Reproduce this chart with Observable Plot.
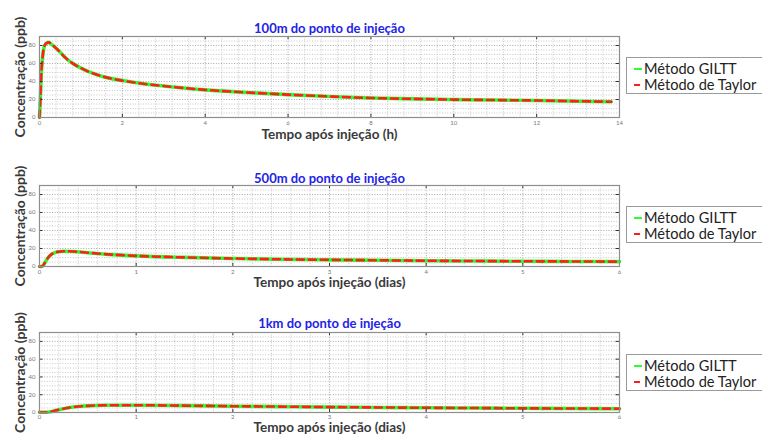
<!DOCTYPE html>
<html>
<head>
<meta charset="utf-8">
<script src="https://cdn.jsdelivr.net/npm/d3@7"></script>
<script src="https://cdn.jsdelivr.net/npm/@observablehq/plot@0.6"></script>
<style>
  html, body { margin: 0; padding: 0; background: #fff; }
  #root { position: relative; width: 762px; height: 436px; overflow: hidden; background: #fff; font-family: Lato, "Open Sans", sans-serif; }
  .panel { position: absolute; left: 0; }
  .legend { position: absolute; left: 626px; width: 150px; height: 37px; border: 1px solid #9a9a9a; background: #fff; box-sizing: border-box; }
  .row { position: absolute; left: 7px; height: 17px; line-height: 17px; font-size: 14.6px; color: #222; white-space: nowrap; }
  .sw { display: inline-block; width: 8px; height: 0; vertical-align: middle; margin-right: 2px; position: relative; top: -1px; }
</style>
</head>
<body>
<div id="root"></div>
<script>
// ---------------- data ----------------
const seriesNames = ["Método GILTT", "Método de Taylor"];
const panelTitles = ["100m do ponto de injeção", "500m do ponto de injeção", "1km do ponto de injeção"];
const xLabels = ["Tempo após injeção (h)", "Tempo após injeção (dias)", "Tempo após injeção (dias)"];
const yLabel = "Concentração (ppb)";

const xTicksHours = [0, 2, 4, 6, 8, 10, 12, 14];
const xTicksDays = [0, 1, 2, 3, 4, 5, 6];
const yTicks = [0, 20, 40, 60, 80];

// 100 m (hours)
const time100 = [0, 0.02, 0.04, 0.07, 0.1, 0.15, 0.22, 0.3, 0.4, 0.5, 0.6, 0.7, 0.8, 0.9, 1.0, 1.2, 1.5, 2.0, 2.5, 3.0, 4.0, 5.0, 6.0, 7.0, 8.0, 9.0, 10, 11, 12, 13, 13.8];
const giltt100 = [0, 20, 45, 65, 76, 82, 83.5, 81, 77, 72.5, 67.5, 63.5, 60.2, 57.4, 54.9, 50.6, 45.9, 41, 37.5, 35, 30.7, 27.8, 25.4, 23.4, 21.7, 20.7, 19.9, 19.4, 18.9, 18.1, 17.5];
const taylor100 = [0, 20, 45, 65, 76, 82, 83.5, 81, 77, 72.5, 67.5, 63.5, 60.2, 57.4, 54.9, 50.6, 45.9, 41, 37.5, 35, 30.7, 27.8, 25.4, 23.4, 21.7, 20.7, 19.9, 19.4, 18.9, 18.1, 17.5];

// 500 m (days)
const time500 = [0, 0.02, 0.04, 0.06, 0.09, 0.13, 0.18, 0.25, 0.35, 0.5, 0.75, 1, 1.5, 2, 2.5, 3, 3.5, 4, 4.5, 5, 5.5, 6];
const giltt500 = [0, 0, 1.5, 5, 10, 14, 16.2, 17, 16.7, 15.3, 13.2, 11.8, 10.1, 8.9, 8.0, 7.4, 6.9, 6.4, 6.1, 5.8, 5.6, 5.4];
const taylor500 = [0, 0, 1.5, 5, 10, 14, 16.2, 17, 16.7, 15.3, 13.2, 11.8, 10.1, 8.9, 8.0, 7.4, 6.9, 6.4, 6.1, 5.8, 5.6, 5.4];

// 1 km (days)
const time1k = [0, 0.05, 0.1, 0.15, 0.2, 0.3, 0.4, 0.5, 0.7, 1, 1.5, 2, 2.5, 3, 3.5, 4, 4.5, 5, 5.5, 6];
const giltt1k = [0.3, 0.2, 0.6, 1.8, 3.2, 5.3, 6.7, 7.5, 8.1, 8.2, 7.7, 7.1, 6.6, 6.1, 5.7, 5.3, 5.0, 4.7, 4.5, 4.3];
const taylor1k = [0.3, 0.2, 0.6, 1.8, 3.2, 5.3, 6.7, 7.5, 8.1, 8.2, 7.7, 7.1, 6.6, 6.1, 5.7, 5.3, 5.0, 4.7, 4.5, 4.3];

// ---------------- drawing ----------------
const GREEN = "#2cff2c", RED = "#ff1e1e";
const root = document.getElementById("root");

function panel(cfg) {
  const { top, height, mt, mb, title, xlabel, xTicks, xMinor, time, a, b, titleDy, labelDy, tickPad } = cfg;
  const xmax = xTicks[xTicks.length - 1];
  const dA = time.map((t, i) => ({ t, c: a[i] }));
  const dB = time.map((t, i) => ({ t, c: b[i] }));
  const minorX = d3.range(0, xmax + 1e-9, xMinor).filter(v => !xTicks.some(t => Math.abs(t - v) < 1e-9));
  const minorY = d3.range(0, 90, 5).filter(v => !yTicks.includes(v));
  const tx = xmax * 0.006; // inward tick length in x units (~3.5px)
  const ty = 3.5;          // inward tick length in y units (~3px)
  const p = Plot.plot({
    width: 762, height,
    marginLeft: 39, marginRight: 143, marginTop: mt, marginBottom: mb,
    x: { domain: [0, xmax] },
    y: { domain: [0, 90] },
    style: { fontFamily: "Lato, 'Open Sans', sans-serif", background: "transparent", overflow: "visible" },
    marks: [
      Plot.frame({ fill: "#fff" }),
      Plot.gridX(minorX, { stroke: "#c8c8c8", strokeOpacity: 1, strokeDasharray: "1,1.6" }),
      Plot.gridY(minorY, { stroke: "#c8c8c8", strokeOpacity: 1, strokeDasharray: "1,1.6" }),
      Plot.gridX(xTicks, { stroke: "#a8a8a8", strokeOpacity: 1, strokeDasharray: "1,1.6" }),
      Plot.gridY(yTicks, { stroke: "#a8a8a8", strokeOpacity: 1, strokeDasharray: "1,1.6" }),
      Plot.line(dA, { x: "t", y: "c", stroke: GREEN, strokeWidth: 3.6, curve: "monotone-x" }),
      Plot.line(dB, { x: "t", y: "c", stroke: RED, strokeWidth: 2.6, strokeDasharray: "7,5", curve: "monotone-x" }),
      // inward ticks (bottom, top, left, right)
      Plot.ruleX(xTicks, { y1: 0, y2: ty, stroke: "#333", strokeWidth: 1 }),
      Plot.ruleX(xTicks, { y1: 90, y2: 90 - ty, stroke: "#333", strokeWidth: 1 }),
      Plot.ruleY(yTicks, { x1: 0, x2: tx, stroke: "#333", strokeWidth: 1 }),
      Plot.ruleY(yTicks, { x1: xmax, x2: xmax - tx, stroke: "#333", strokeWidth: 1 }),
      Plot.frame({ stroke: "#8e8e8e", strokeWidth: 1.2 }),
      Plot.axisX(xTicks, { tickSize: 0, tickPadding: tickPad, fontSize: 6, fill: "#777", label: null }),
      Plot.axisY(yTicks, { tickSize: 0, tickPadding: 4, fontSize: 6, fill: "#777", label: null }),
      Plot.text([title], { frameAnchor: "top", dy: titleDy, fill: "#2323e6", fontWeight: "bold", fontSize: 13 }),
      Plot.text([xlabel], { frameAnchor: "bottom", dy: labelDy, fill: "#3a3a3a", fontWeight: "bold", fontSize: 13.5 }),
      Plot.text([yLabel], { frameAnchor: "left", textAnchor: "middle", dx: -19, rotate: -90, fill: "#3a3a3a", fontWeight: "bold", fontSize: 14 })
    ]
  });
  p.classList.add("panel");
  p.style.top = top + "px";
  root.appendChild(p);

  const lg = document.createElement("div");
  lg.className = "legend";
  lg.style.top = cfg.legendTop + "px";
  lg.innerHTML =
    `<div class="row" style="top:1.5px"><span class="sw" style="border-top:2.5px solid ${GREEN}"></span>${seriesNames[0]}</div>` +
    `<div class="row" style="top:17.5px"><span class="sw" style="border-top:2.5px solid ${RED};width:6px;margin-right:4px"></span>${seriesNames[1]}</div>`;
  root.appendChild(lg);
}

panel({ top: 0, height: 145, mt: 36, mb: 28, title: panelTitles[0], xlabel: xLabels[0], xTicks: xTicksHours, xMinor: 0.4,
        time: time100, a: giltt100, b: taylor100, titleDy: -12.5, labelDy: 21, tickPad: 3, legendTop: 57 });
panel({ top: 150, height: 145, mt: 35, mb: 29, title: panelTitles[1], xlabel: xLabels[1], xTicks: xTicksDays, xMinor: 0.2,
        time: time500, a: giltt500, b: taylor500, titleDy: -12, labelDy: 20, tickPad: 3, legendTop: 206 });
panel({ top: 297, height: 139, mt: 35, mb: 24, title: panelTitles[2], xlabel: xLabels[2], xTicks: xTicksDays, xMinor: 0.2,
        time: time1k, a: giltt1k, b: taylor1k, titleDy: -14, labelDy: 19.5, tickPad: 2, legendTop: 354 });
</script>
</body>
</html>
